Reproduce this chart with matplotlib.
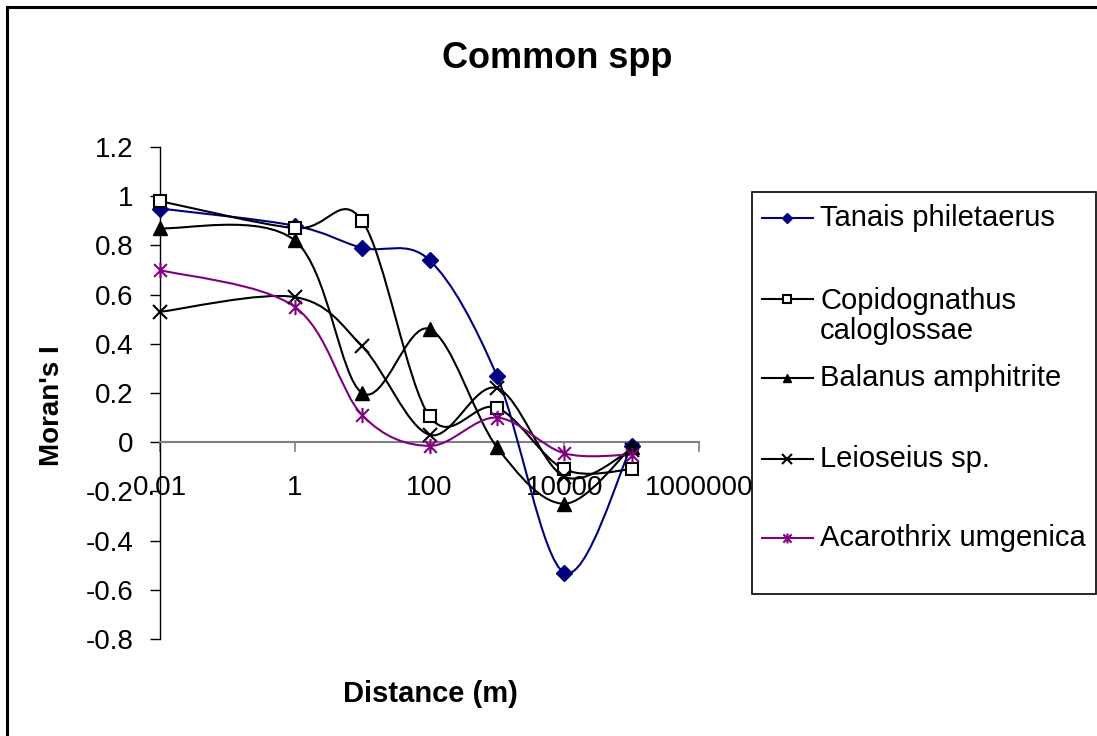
import numpy as np
import matplotlib
matplotlib.use("Agg")
import matplotlib.pyplot as plt
from matplotlib.path import Path
from matplotlib.patches import PathPatch, Rectangle
from matplotlib.lines import Line2D

plt.rcParams['font.family'] = ['Liberation Sans', 'DejaVu Sans']

# ---- data ----
distance = [0.01, 1, 10, 100, 1000, 10000, 100000]
tanais = [0.95, 0.88, 0.79, 0.74, 0.27, -0.53, -0.015]
copidognathus = [0.98, 0.87, 0.90, 0.105, 0.14, -0.11, -0.11]
balanus = [0.87, 0.82, 0.20, 0.46, -0.02, -0.25, -0.02]
leioseius = [0.53, 0.59, 0.39, 0.03, 0.22, -0.14, -0.03]
acarothrix = [0.70, 0.55, 0.11, -0.015, 0.10, -0.045, -0.05]
series_names = ["Tanais philetaerus", "Copidognathus\ncaloglossae", "Balanus amphitrite",
                "Leioseius sp.", "Acarothrix umgenica"]
x_ticks = [0.01, 1, 100, 10000, 1000000]
x_tick_labels = ["0.01", "1", "100", "10000", "1000000"]
y_ticks = [1.2, 1.0, 0.8, 0.6, 0.4, 0.2, 0.0, -0.2, -0.4, -0.6, -0.8]
y_tick_labels = ["1.2", "1", "0.8", "0.6", "0.4", "0.2", "0", "-0.2", "-0.4", "-0.6", "-0.8"]

W, H = 1097, 736
fig = plt.figure(figsize=(W / 100, H / 100), dpi=100)
ax = fig.add_axes([160 / W, 1 - 639 / H, (699 - 160) / W, (639 - 147) / H])
ax.set_xscale('log')
ax.set_xlim(0.01, 1000000)
ax.set_ylim(-0.8, 1.2)

# asterisk marker (x + vertical bar)
ast = Path([(-1, -1), (1, 1), (-1, 1), (1, -1), (0, -1.2), (0, 1.2)],
           [Path.MOVETO, Path.LINETO, Path.MOVETO, Path.LINETO, Path.MOVETO, Path.LINETO])


def smooth_path(xs, ys):
    lx = np.log10(np.asarray(xs, float))
    y = np.asarray(ys, float)
    n = len(lx)
    verts = [(xs[0], ys[0])]
    codes = [Path.MOVETO]
    for i in range(n - 1):
        p0 = i - 1 if i > 0 else i
        p3 = i + 2 if i + 2 < n else i + 1
        c1x = lx[i] + (lx[i + 1] - lx[p0]) / 6
        c1y = y[i] + (y[i + 1] - y[p0]) / 6
        c2x = lx[i + 1] - (lx[p3] - lx[i]) / 6
        c2y = y[i + 1] - (y[p3] - y[i]) / 6
        verts += [(10 ** c1x, c1y), (10 ** c2x, c2y), (xs[i + 1], ys[i + 1])]
        codes += [Path.CURVE4] * 3
    return Path(verts, codes)


styles = [
    (tanais, '#000080', dict(marker='D', markersize=8, mfc='#000080', mec='#000080')),
    (copidognathus, 'black', dict(marker='s', markersize=8, mfc='white', mec='black', mew=1.5)),
    (balanus, 'black', dict(marker='^', markersize=9.5, mfc='black', mec='black')),
    (leioseius, 'black', dict(marker='x', markersize=10, mec='black', mew=1.5)),
    (acarothrix, '#800080', dict(marker=ast, markersize=11, mec='#800080', mew=1.5)),
]

# x axis line at y = 0
ax.spines['top'].set_visible(False)
ax.spines['right'].set_visible(False)
ax.spines['bottom'].set_position(('data', 0))
ax.spines['bottom'].set_color('#808080')
ax.spines['bottom'].set_linewidth(1.5)
ax.spines['left'].set_color('black')
ax.spines['left'].set_linewidth(1.0)

for vals, col, mk in styles:
    ax.add_patch(PathPatch(smooth_path(distance, vals), fill=False, edgecolor=col,
                           lw=1.5, zorder=3, clip_on=False))
    ax.plot(distance, vals, linestyle='none', zorder=4, clip_on=False, **mk)

ax.set_xticks(x_ticks)
ax.set_xticklabels(x_tick_labels)
ax.xaxis.set_minor_locator(matplotlib.ticker.NullLocator())
ax.set_yticks(y_ticks)
ax.set_yticklabels(y_tick_labels)
ax.tick_params(axis='x', direction='out', length=7, width=1.2, color='#808080',
               labelsize=20, pad=16.5)
ax.tick_params(axis='y', direction='out', length=7, width=1.0, color='black',
               labelsize=20, pad=12)

# titles
fig.text(557 / W, 1 - 58 / H, "Common spp", ha='center', va='center',
         fontsize=26, fontweight='bold')
fig.text(430 / W, 1 - 694 / H, "Distance (m)", ha='center', va='center',
         fontsize=21, fontweight='bold')
fig.text(52 / W, 1 - 406 / H, "Moran's I", ha='center', va='center',
         fontsize=20, fontweight='bold', rotation=90)


def fx(px):
    return px / W


def fy(py):
    return 1 - py / H


# legend (manual)
fig.add_artist(Rectangle((fx(752), fy(594)), fx(1096) - fx(752), fy(192) - fy(594),
                         transform=fig.transFigure, facecolor='white', edgecolor='black',
                         lw=1.2, zorder=5))
leg_y = [218, 299, 378, 459, 538]
for (vals, col, mk), name, yy in zip(styles, series_names, leg_y):
    fig.add_artist(Line2D([fx(762), fx(813)], [fy(yy), fy(yy)], color=col, lw=1.5,
                          transform=fig.transFigure, zorder=6))
    mk2 = dict(mk)
    mk2['markersize'] = mk2['markersize'] * 0.65
    fig.add_artist(Line2D([fx(787)], [fy(yy)], linestyle='none', transform=fig.transFigure,
                          zorder=7, **mk2))
    ty = yy if '\n' not in name else yy + 17
    fig.text(fx(820), fy(ty), name, ha='left', va='center', fontsize=21, zorder=7,
             linespacing=1.1)

# outer border
fig.add_artist(Line2D([fx(7), fx(1100)], [fy(7), fy(7)], color='black', lw=2.2,
                      transform=fig.transFigure))
fig.add_artist(Line2D([fx(7), fx(7)], [fy(7), fy(740)], color='black', lw=2.2,
                      transform=fig.transFigure))

fig.savefig("out.png", dpi=100)
